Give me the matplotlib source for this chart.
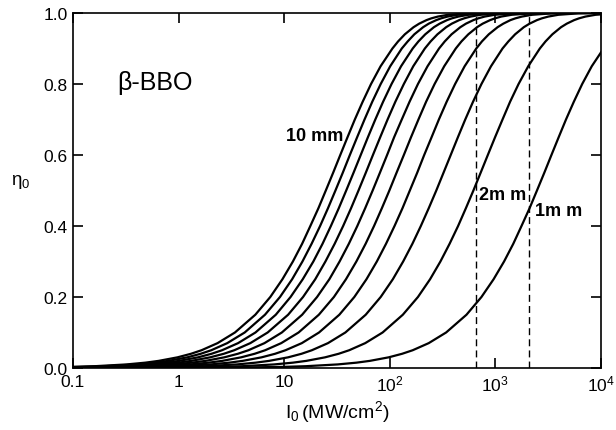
import matplotlib
matplotlib.use("Agg")
import matplotlib.pyplot as plt
from matplotlib.ticker import FixedLocator, FixedFormatter, NullLocator

plt.rcParams['font.family'] = ['Liberation Sans', 'DejaVu Sans']
plt.rcParams['mathtext.fontset'] = 'custom'
plt.rcParams['mathtext.rm'] = 'Liberation Sans'
plt.rcParams['mathtext.it'] = 'Liberation Sans'

eta = [0.00001, 0.0001, 0.001, 0.003, 0.005, 0.01, 0.015, 0.02, 0.03, 0.04, 0.05, 0.07, 0.1,
       0.15, 0.2, 0.25, 0.3, 0.35, 0.4, 0.45, 0.5, 0.55, 0.6, 0.65, 0.7, 0.75, 0.8, 0.85,
       0.9, 0.92, 0.94, 0.96, 0.97, 0.98, 0.985, 0.99, 0.995, 0.999, 0.99999]

i_10mm = [0.000319, 0.00319, 0.0319, 0.0960, 0.160, 0.321, 0.484, 0.647, 0.977, 1.31, 1.65, 2.34,
          3.42, 5.33, 7.39, 9.63, 12.1, 14.8, 17.7, 21.1, 24.8, 29.1, 34.0, 39.8, 46.7, 55.4,
          66.5, 81.9, 106, 120, 139, 168, 190, 223, 248, 286, 356, 549, 1330]
i_9mm = [0.000394, 0.00394, 0.0394, 0.119, 0.198, 0.397, 0.597, 0.799, 1.21, 1.62, 2.04, 2.89,
         4.23, 6.58, 9.13, 11.9, 14.9, 18.2, 21.9, 26.0, 30.6, 35.9, 41.9, 49.1, 57.7, 68.3,
         82.1, 101, 130, 148, 171, 207, 234, 276, 307, 353, 440, 678, 1640]
i_8mm = [0.000499, 0.00499, 0.0499, 0.150, 0.250, 0.502, 0.756, 1.01, 1.53, 2.05, 2.58, 3.66,
         5.35, 8.33, 11.5, 15.0, 18.9, 23.1, 27.7, 32.9, 38.7, 45.4, 53.1, 62.1, 73.0, 86.5,
         104, 128, 165, 187, 217, 262, 297, 349, 388, 447, 557, 858, 2070]
i_7mm = [0.000651, 0.00651, 0.0651, 0.196, 0.327, 0.656, 0.987, 1.32, 1.99, 2.68, 3.37, 4.78,
         6.98, 10.9, 15.1, 19.7, 24.6, 30.1, 36.2, 43.0, 50.6, 59.3, 69.3, 81.2, 95.4, 113,
         136, 167, 215, 244, 283, 342, 387, 455, 507, 584, 727, 1120, 2710]
i_6mm = [0.000887, 0.00887, 0.0887, 0.267, 0.445, 0.893, 1.34, 1.80, 2.71, 3.64, 4.59, 6.51,
         9.51, 14.8, 20.5, 26.8, 33.5, 41.0, 49.3, 58.5, 68.9, 80.7, 94.4, 110, 130, 154,
         185, 228, 293, 332, 385, 466, 527, 620, 690, 794, 990, 1520, 3690]
i_5mm = [0.00128, 0.0128, 0.128, 0.384, 0.641, 1.29, 1.93, 2.59, 3.91, 5.25, 6.61, 9.38,
         13.7, 21.3, 29.6, 38.5, 48.3, 59.1, 71.0, 84.2, 99.2, 116, 136, 159, 187, 221,
         266, 328, 422, 478, 555, 671, 759, 893, 993, 1140, 1430, 2200, 5310]
i_4mm = [0.00199, 0.0199, 0.199, 0.600, 1.00, 2.01, 3.02, 4.04, 6.11, 8.20, 10.3, 14.7,
         21.4, 33.3, 46.2, 60.2, 75.5, 92.3, 111, 132, 155, 182, 212, 249, 292, 346,
         416, 512, 660, 747, 867, 1050, 1190, 1390, 1550, 1790, 2230, 3430, 8300]
i_3mm = [0.00355, 0.0355, 0.355, 1.07, 1.78, 3.57, 5.37, 7.19, 10.9, 14.6, 18.3, 26.0,
         38.0, 59.2, 82.1, 107, 134, 164, 197, 234, 276, 323, 378, 442, 519, 615,
         739, 910, 1170, 1330, 1540, 1860, 2110, 2480, 2760, 3180, 3960, 6100, 14800]
i_2mm = [0.00798, 0.0798, 0.798, 2.40, 4.00, 8.03, 12.1, 16.2, 24.4, 32.8, 41.3, 58.6,
         85.6, 133, 185, 241, 302, 369, 444, 526, 620, 726, 849, 994, 1170, 1380,
         1660, 2050, 2640, 2990, 3470, 4190, 4750, 5580, 6210, 7150, 8910, 13700, 33200]
i_1mm = [0.0319, 0.319, 3.19, 9.60, 16.0, 32.1, 48.4, 64.7, 97.7, 131, 165, 234,
         342, 533, 739, 963, 1210, 1480, 1770, 2110, 2480, 2910, 3400, 3980, 4670, 5540,
         6650, 8190, 10600, 12000, 13900, 16800, 19000, 22300, 24800, 28600, 35600, 54900, 133000]

curves = [i_1mm, i_2mm, i_3mm, i_4mm, i_5mm, i_6mm, i_7mm, i_8mm, i_9mm, i_10mm]

# vertical dashed markers
dashed_x = [660, 2100]

x_ticks = [0.1, 1, 10, 100, 1000, 10000]
x_tick_labels = ['0.1', '1', '10', r'$\mathrm{10^2}$', r'$\mathrm{10^3}$', r'$\mathrm{10^4}$']
y_ticks = [0.0, 0.2, 0.4, 0.6, 0.8, 1.0]
y_tick_labels = ['0.0', '0.2', '0.4', '0.6', '0.8', '1.0']

fig = plt.figure(figsize=(6.16, 4.31), dpi=100)
ax = fig.add_axes([0.1185, 0.1439, 0.857, 0.8236])

for c in curves:
    ax.plot(c, eta, color='black', lw=1.6, solid_capstyle='round', solid_joinstyle='round')

for xv in dashed_x:
    ax.axvline(xv, color='black', lw=1.0, ls=(0, (5, 3)))

ax.set_xscale('log')
ax.set_xlim(0.1, 10000)
ax.set_ylim(0, 1)

ax.xaxis.set_major_locator(FixedLocator(x_ticks))
ax.xaxis.set_major_formatter(FixedFormatter(x_tick_labels))
ax.xaxis.set_minor_locator(NullLocator())
ax.yaxis.set_major_locator(FixedLocator(y_ticks))
ax.yaxis.set_major_formatter(FixedFormatter(y_tick_labels))

ax.tick_params(direction='in', length=7, width=1.2, top=True, right=True,
               labelsize=12.5, pad=4)
for s in ax.spines.values():
    s.set_linewidth(1.2)

ax.set_xlabel(r'$\mathrm{I_0\,(MW/cm^2)}$', fontsize=14, labelpad=3)
ax.set_ylabel('η$_0$', fontsize=13.5, rotation=0)
ax.yaxis.set_label_coords(-0.1, 0.5)

ax.text(0.265, 0.805, 'β-BBO', fontsize=18, va='center', ha='left')
ax.text(36, 0.655, '10 mm', fontsize=13, fontweight='bold', va='center', ha='right')
ax.text(700, 0.49, '2m m', fontsize=13, fontweight='bold', va='center', ha='left')
ax.text(2350, 0.445, '1m m', fontsize=13, fontweight='bold', va='center', ha='left')

fig.savefig('out.png', dpi=100)
